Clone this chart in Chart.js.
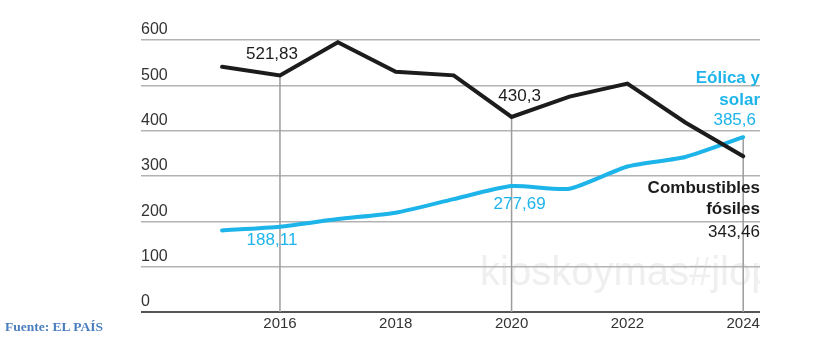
<!DOCTYPE html>
<html lang="es">
<head>
<meta charset="utf-8">
<title>Combustibles fósiles frente a eólica y solar</title>
<script src="https://cdn.jsdelivr.net/npm/chart.js@4/dist/chart.umd.min.js"></script>
<style>
  html, body { margin: 0; padding: 0; background: #fff; }
  #wrap { position: relative; width: 835px; height: 341px; }
  #source {
    position: absolute; left: 5px; top: 319px;
    font: bold 13.5px "Liberation Serif", "DejaVu Serif", serif;
    color: #4a7ebf;
  }
</style>
</head>
<body>
<div id="wrap">
  <canvas id="chart" width="835" height="341"></canvas>
  <div id="source">Fuente: EL PAÍS</div>
</div>
<script>
// Data
const years = [2015, 2016, 2017, 2018, 2019, 2020, 2021, 2022, 2023, 2024];
const fossil = [541, 521.83, 595, 530, 522, 430.3, 475, 504, 418, 343.46];
const renewables = [180, 188.11, 205, 219, 249, 277.69, 272, 321, 342, 385.6];

const xTickYears = [2016, 2018, 2020, 2022, 2024];
const yTickValues = [0, 100, 200, 300, 400, 500, 600];
const dropYears = [2016, 2020, 2024];
const calloutYears = [2016, 2020];

const fossilName = ['Combustibles', 'fósiles'];
const renewName = ['Eólica y', 'solar'];
const watermark = 'kioskoymas#jlop';

const BLACK = '#1c1c1c';
const BLUE = '#1db4ea';
const FONT = '"Liberation Sans", Arial, Helvetica, sans-serif';

// spanish decimal comma
const fmt = v => String(v).replace('.', ',');

const overlay = {
    id: 'overlay',
    beforeDraw(chart) {
        // faint watermark, clipped to the plot
        const { ctx, chartArea: a } = chart;
        ctx.save();
        ctx.beginPath();
        ctx.rect(a.left, a.top, a.right - a.left, a.bottom - a.top);
        ctx.clip();
        ctx.fillStyle = '#efefef';
        ctx.font = '40px ' + FONT;
        ctx.textBaseline = 'alphabetic';
        ctx.fillText(watermark, a.left + 339, a.bottom - 27);
        ctx.restore();
    },
    beforeDatasetsDraw(chart) {
        // vertical drop lines from the highest value down to zero
        const { ctx } = chart;
        const xs = chart.scales.x, ys = chart.scales.y;
        ctx.save();
        ctx.strokeStyle = '#9c9c9c';
        ctx.lineWidth = 1.5;
        dropYears.forEach(yr => {
            const i = years.indexOf(yr);
            const top = Math.max(fossil[i], renewables[i]);
            const px = xs.getPixelForValue(yr);
            ctx.beginPath();
            ctx.moveTo(px, ys.getPixelForValue(top));
            ctx.lineTo(px, ys.getPixelForValue(0));
            ctx.stroke();
        });
        ctx.restore();
    },
    afterDatasetsDraw(chart) {
        const { ctx, chartArea: a } = chart;
        const xs = chart.scales.x, ys = chart.scales.y;
        ctx.save();
        ctx.textBaseline = 'middle';

        // value callouts at 2016 and 2020
        ctx.font = '17px ' + FONT;
        ctx.textAlign = 'center';
        calloutYears.forEach((yr, k) => {
            const i = years.indexOf(yr);
            const px = xs.getPixelForValue(yr);
            const dx = k === 0 ? -8 : 8;
            ctx.fillStyle = BLACK;
            ctx.fillText(fmt(fossil[i]), px + dx, ys.getPixelForValue(fossil[i]) - 21);
            ctx.fillStyle = BLUE;
            ctx.fillText(fmt(renewables[i]), px + dx, ys.getPixelForValue(renewables[i]) + (k === 0 ? 14 : 18));
        });

        // series names and last values on the right
        const last = years.length - 1;
        const yBlue = ys.getPixelForValue(renewables[last]);
        const yBlack = ys.getPixelForValue(fossil[last]);
        ctx.textAlign = 'right';

        ctx.fillStyle = BLUE;
        ctx.font = 'bold 17px ' + FONT;
        ctx.fillText(renewName[0], a.right, yBlue - 59);
        ctx.fillText(renewName[1], a.right, yBlue - 37);
        ctx.font = '17px ' + FONT;
        ctx.fillText(fmt(renewables[last]), a.right - 4, yBlue - 17);

        ctx.fillStyle = BLACK;
        ctx.font = 'bold 17px ' + FONT;
        ctx.fillText(fossilName[0], a.right, yBlack + 32);
        ctx.fillText(fossilName[1], a.right, yBlack + 53);
        ctx.font = '17px ' + FONT;
        ctx.fillText(fmt(fossil[last]), a.right, yBlack + 76);

        ctx.restore();
    }
};

const ctx = document.getElementById('chart').getContext('2d');
const chart = new Chart(ctx, {
    type: 'line',
    data: {
        labels: years,
        datasets: [
            {
                label: 'Combustibles fósiles',
                data: years.map((yr, i) => ({ x: yr, y: fossil[i] })),
                borderColor: BLACK,
                borderWidth: 4,
                tension: 0,
                pointRadius: 0,
                borderJoinStyle: 'miter',
                borderCapStyle: 'round'
            },
            {
                label: 'Eólica y solar',
                data: years.map((yr, i) => ({ x: yr, y: renewables[i] })),
                borderColor: BLUE,
                borderWidth: 4,
                tension: 0.2,
                pointRadius: 0,
                borderCapStyle: 'round'
            }
        ]
    },
    options: {
        responsive: false,
        animation: false,
        events: [],
        layout: { padding: { left: 141, right: 75, top: 40, bottom: 5 } },
        plugins: {
            legend: { display: false },
            tooltip: { enabled: false }
        },
        scales: {
            x: {
                type: 'linear',
                min: 2013.6,
                max: 2024.29,
                afterBuildTicks: s => { s.ticks = xTickYears.map(v => ({ value: v })); },
                grid: { display: false, drawTicks: false },
                border: { display: false },
                ticks: {
                    padding: 3,
                    color: '#333',
                    font: { family: FONT, size: 15 },
                    callback: v => String(v)
                }
            },
            y: {
                min: 0,
                max: 600,
                afterBuildTicks: s => { s.ticks = yTickValues.map(v => ({ value: v })); },
                border: { display: false },
                grid: {
                    drawTicks: false,
                    color: c => c.tick && c.tick.value === 0 ? '#555' : '#b3b3b3',
                    lineWidth: c => c.tick && c.tick.value === 0 ? 2 : 1.5
                },
                ticks: {
                    mirror: true,
                    padding: 0,
                    labelOffset: -10,
                    color: '#333',
                    font: { family: FONT, size: 16 }
                }
            }
        }
    },
    plugins: [overlay]
});
</script>
</body>
</html>
